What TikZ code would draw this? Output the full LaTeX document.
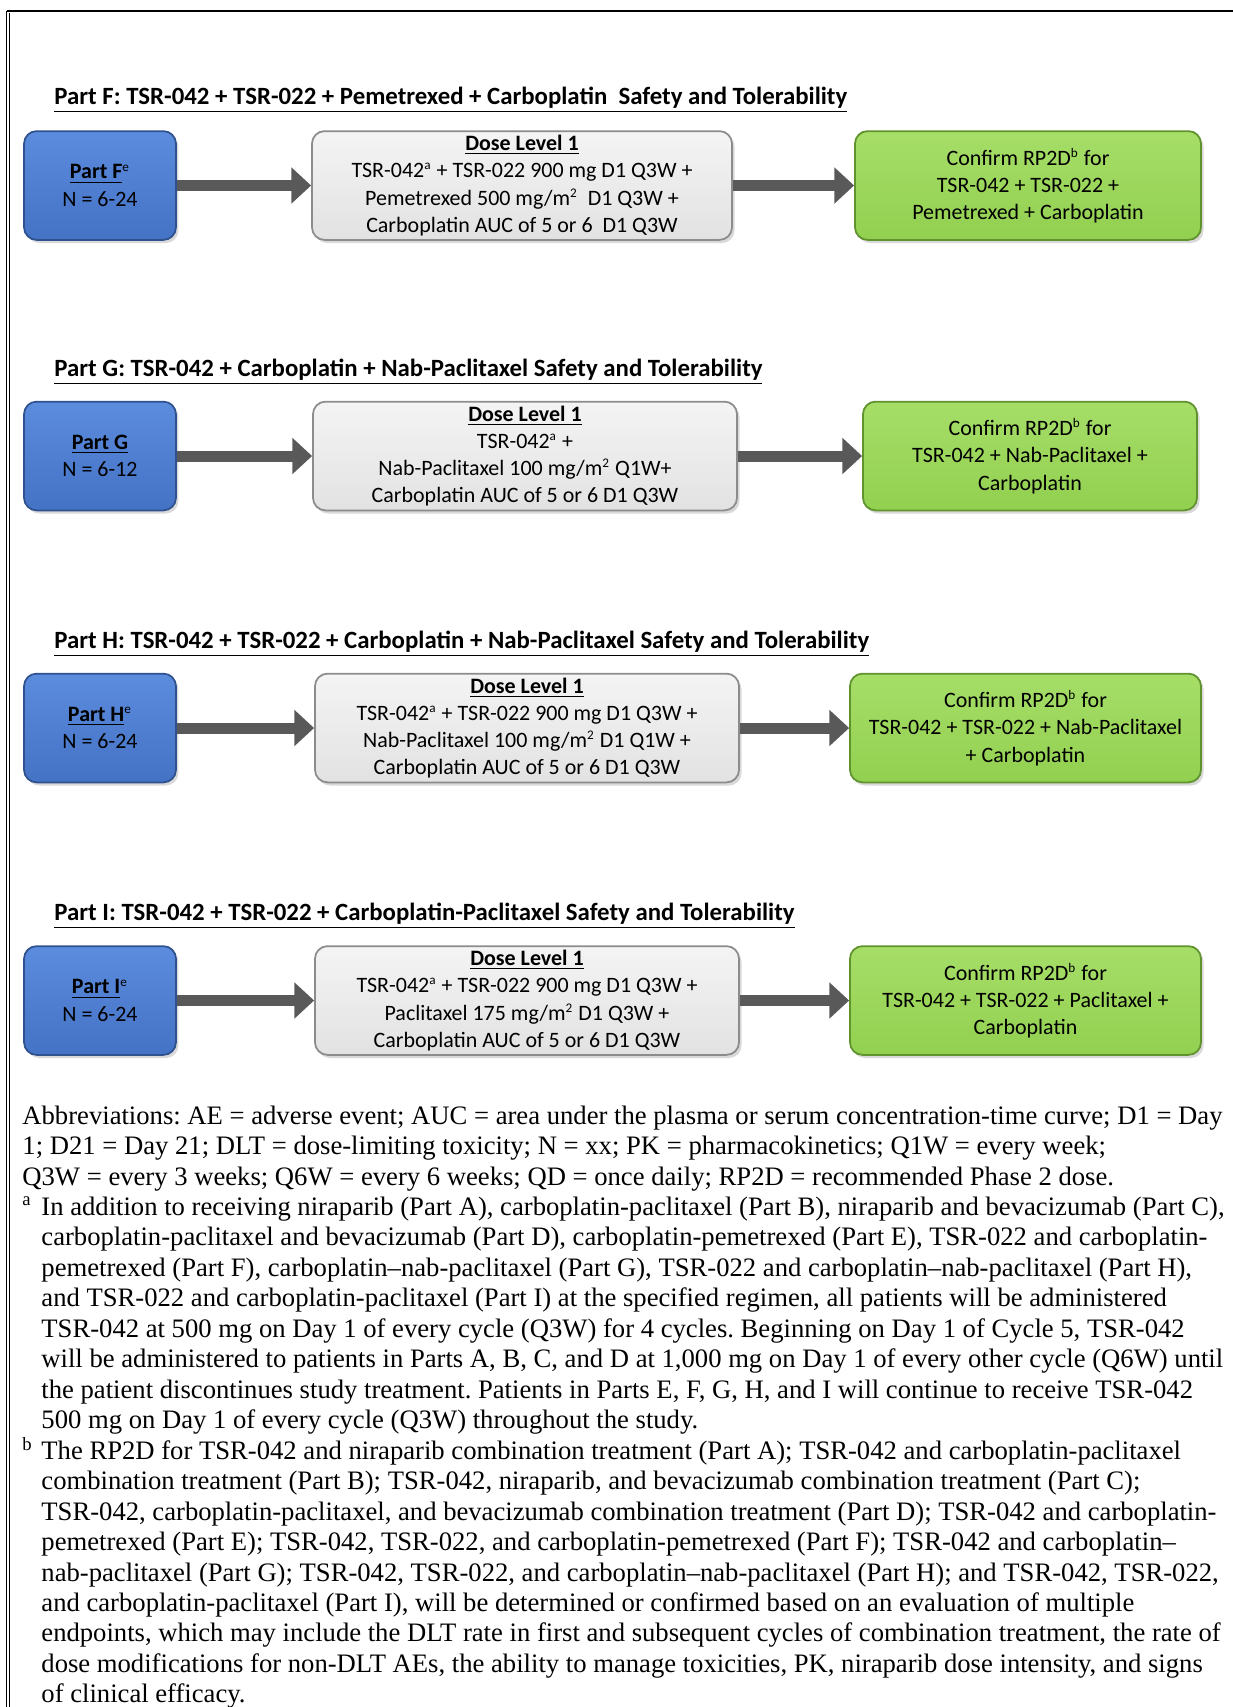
\documentclass[tikz,border=0pt]{standalone}
\usepackage{fontspec}
\setmainfont{Liberation Serif}
\newfontfamily\calibri{Carlito}
\usetikzlibrary{arrows.meta,shadows}
\frenchspacing
\newcommand{\supnote}[1]{\textsuperscript{\fontsize{6}{6}\selectfont #1}}

\definecolor{partblue}{RGB}{68,114,196}
\definecolor{partbluetop}{RGB}{92,140,222}
\definecolor{partblueline}{RGB}{47,82,143}
\definecolor{dosegray}{RGB}{226,226,226}
\definecolor{dosegraytop}{RGB}{244,244,244}
\definecolor{dosegrayline}{RGB}{140,140,140}
\definecolor{rpgreen}{RGB}{146,208,80}
\definecolor{rpgreentop}{RGB}{166,222,104}
\definecolor{rpgreenline}{RGB}{96,146,46}
\definecolor{flowgray}{RGB}{89,89,89}

\tikzset{
	boxfont/.style={font=\calibri\fontsize{10}{12.4}\selectfont},
	anybox/.style={boxfont, align=center, inner sep=0pt, line width=0.8pt,
		rounded corners=0.2cm, minimum height=1.74cm,
		drop shadow={shadow xshift=0.04cm, shadow yshift=-0.05cm, opacity=0.3}},
	partbox/.style={anybox, draw=partblueline, top color=partbluetop, bottom color=partblue,
		minimum width=2.43cm},
	dosebox/.style={anybox, draw=dosegrayline, top color=dosegraytop, bottom color=dosegray},
	rpbox/.style={anybox, draw=rpgreenline, top color=rpgreentop, bottom color=rpgreen},
	parttitle/.style={anchor=west, inner sep=0pt, font=\calibri\fontsize{11.3}{13.6}\selectfont\bfseries},
	flow/.style={draw=flowgray, line width=5pt, -{Triangle[length=9pt,width=16pt]}},
	notetext/.style={anchor=north west, inner sep=0pt, align=left, font=\fontsize{12.13}{13.87}\selectfont},
}

\begin{document}
\begin{tikzpicture}
	
	\useasboundingbox (0,0) rectangle (19.728,-27.312);
	
	% page frame
	\draw[line width=0.9pt] (0.107,-0.176) -- (19.728,-0.176);
	\draw[line width=0.6pt] (0.107,-0.176) -- (0.107,-27.312);
	\draw[line width=0.6pt] (0.155,-0.2) -- (0.155,-27.312);
	
	% Part F
	\node[parttitle] (tf) at (0.864,-1.6) {\underline{Part F: TSR-042 + TSR-022 + Pemetrexed + Carboplatin\ \ Safety and Tolerability}};
	
	\node[partbox] (pf) at (1.6,-2.968) {\underline{\textbf{Part F}}\supnote{e}\\N = 6-24};
	
	\node[dosebox, minimum width=6.72cm] (df) at (8.352,-2.968) {\underline{\textbf{Dose Level 1}}\\TSR-042\supnote{a} + TSR-022 900 mg D1 Q3W +\\Pemetrexed 500 mg/m\supnote{2}\ \ D1 Q3W +\\Carboplatin AUC of 5 or 6\ \ D1 Q3W};
	
	\node[rpbox, minimum width=5.536cm] (cf) at (16.448,-2.968) {Confirm RP2D\supnote{b} for\\TSR-042 + TSR-022 +\\Pemetrexed + Carboplatin};
	
	% Part G
	\node[parttitle] (tg) at (0.864,-5.952) {\underline{Part G: TSR-042 + Carboplatin + Nab-Paclitaxel Safety and Tolerability}};
	
	\node[partbox] (pg) at (1.6,-7.296) {\underline{\textbf{Part G}}\\N = 6-12};
	
	\node[dosebox, minimum width=6.784cm] (dg) at (8.4,-7.296) {\underline{\textbf{Dose Level 1}}\\TSR-042\supnote{a} +\\Nab-Paclitaxel 100 mg/m\supnote{2} Q1W+\\Carboplatin AUC of 5 or 6 D1 Q3W};
	
	\node[rpbox, minimum width=5.344cm] (cg) at (16.48,-7.296) {Confirm RP2D\supnote{b} for\\TSR-042 + Nab-Paclitaxel +\\Carboplatin};
	
	% Part H
	\node[parttitle] (th) at (0.864,-10.304) {\underline{Part H: TSR-042 + TSR-022 + Carboplatin + Nab-Paclitaxel Safety and Tolerability}};
	
	\node[partbox] (ph) at (1.6,-11.648) {\underline{\textbf{Part H}}\supnote{e}\\N = 6-24};
	
	\node[dosebox, minimum width=6.784cm] (dh) at (8.432,-11.648) {\underline{\textbf{Dose Level 1}}\\TSR-042\supnote{a} + TSR-022 900 mg D1 Q3W +\\Nab-Paclitaxel 100 mg/m\supnote{2} D1 Q1W +\\Carboplatin AUC of 5 or 6 D1 Q3W};
	
	\node[rpbox, minimum width=5.616cm] (ch) at (16.408,-11.648) {Confirm RP2D\supnote{b} for\\TSR-042 + TSR-022 + Nab-Paclitaxel\\+ Carboplatin};
	
	% Part I
	\node[parttitle] (ti) at (0.864,-14.656) {\underline{Part I: TSR-042 + TSR-022 + Carboplatin-Paclitaxel Safety and Tolerability}};
	
	\node[partbox] (pi) at (1.6,-16.008) {\underline{\textbf{Part I}}\supnote{e}\\N = 6-24};
	
	\node[dosebox, minimum width=6.784cm] (di) at (8.432,-16.008) {\underline{\textbf{Dose Level 1}}\\TSR-042\supnote{a} + TSR-022 900 mg D1 Q3W +\\Paclitaxel 175 mg/m\supnote{2} D1 Q3W +\\Carboplatin AUC of 5 or 6 D1 Q3W};
	
	\node[rpbox, minimum width=5.616cm] (ci) at (16.408,-16.008) {Confirm RP2D\supnote{b} for\\TSR-042 + TSR-022 + Paclitaxel +\\Carboplatin};
	
	\draw[flow] (pf) -- (df);
	\draw[flow] (df) -- (cf);
	\draw[flow] (pg) -- (dg);
	\draw[flow] (dg) -- (cg);
	\draw[flow] (ph) -- (dh);
	\draw[flow] (dh) -- (ch);
	\draw[flow] (pi) -- (di);
	\draw[flow] (di) -- (ci);
	
	% notes
	\node[notetext] (abbr) at (0.352,-17.6375) {\strut Abbreviations: AE = adverse event; AUC = area under the plasma or serum concentration-time curve; D1 = Day\\
		1; D21 = Day 21; DLT = dose-limiting toxicity; N = xx; PK = pharmacokinetics; Q1W = every week;\\
		Q3W = every 3 weeks; Q6W = every 6 weeks; QD = once daily; RP2D = recommended Phase 2 dose.};
	
	\node[notetext] (supa) at (0.352,-19.0975) {\strut\textsuperscript{a}};
	
	\node[notetext] (nota) at (0.656,-19.0975) {\strut In addition to receiving niraparib (Part A), carboplatin-paclitaxel (Part B), niraparib and bevacizumab (Part C),\\
		carboplatin-paclitaxel and bevacizumab (Part D), carboplatin-pemetrexed (Part E), TSR-022 and carboplatin-\\
		pemetrexed (Part F), carboplatin--nab-paclitaxel (Part G), TSR-022 and carboplatin--nab-paclitaxel (Part H),\\
		and TSR-022 and carboplatin-paclitaxel (Part I) at the specified regimen, all patients will be administered\\
		TSR-042 at 500 mg on Day 1 of every cycle (Q3W) for 4 cycles. Beginning on Day 1 of Cycle 5, TSR-042\\
		will be administered to patients in Parts A, B, C, and D at 1,000 mg on Day 1 of every other cycle (Q6W) until\\
		the patient discontinues study treatment. Patients in Parts E, F, G, H, and I will continue to receive TSR-042\\
		500 mg on Day 1 of every cycle (Q3W) throughout the study.};
	
	\node[notetext] (supb) at (0.352,-22.9975) {\strut\textsuperscript{b}};
	
	\node[notetext] (notb) at (0.656,-22.9975) {\strut The RP2D for TSR-042 and niraparib combination treatment (Part A); TSR-042 and carboplatin-paclitaxel\\
		combination treatment (Part B); TSR-042, niraparib, and bevacizumab combination treatment (Part C);\\
		TSR-042, carboplatin-paclitaxel, and bevacizumab combination treatment (Part D); TSR-042 and carboplatin-\\
		pemetrexed (Part E); TSR-042, TSR-022, and carboplatin-pemetrexed (Part F); TSR-042 and carboplatin--\\
		nab-paclitaxel (Part G); TSR-042, TSR-022, and carboplatin--nab-paclitaxel (Part H); and TSR-042, TSR-022,\\
		and carboplatin-paclitaxel (Part I), will be determined or confirmed based on an evaluation of multiple\\
		endpoints, which may include the DLT rate in first and subsequent cycles of combination treatment, the rate of\\
		dose modifications for non-DLT AEs, the ability to manage toxicities, PK, niraparib dose intensity, and signs\\
		of clinical efficacy.};
	
\end{tikzpicture}
\end{document}
